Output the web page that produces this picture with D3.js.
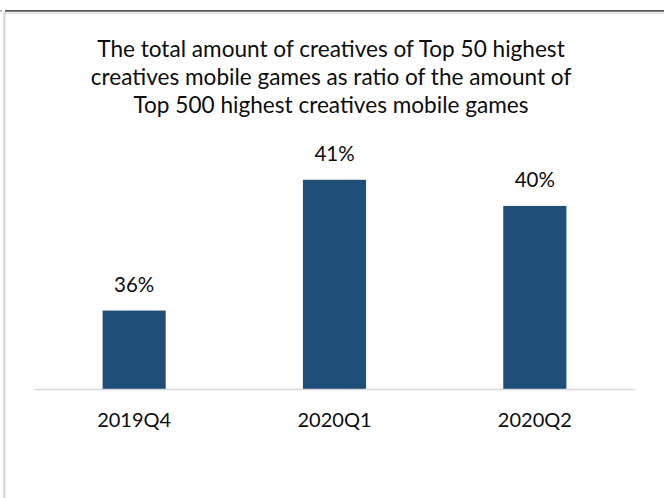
<!DOCTYPE html>
<html>
<head>
<meta charset="utf-8">
<script src="https://cdn.jsdelivr.net/npm/d3@7"></script>
<style>
  html, body { margin: 0; padding: 0; background: #fff; }
  svg { display: block; }
  text { font-family: Lato, "Open Sans", sans-serif; fill: #0d0d0d; }
</style>
</head>
<body>
<script>
// Share of creatives held by the Top 50 games, relative to the Top 500
const categories = ["2019Q4", "2020Q1", "2020Q2"];
const ratios = [36, 41, 40];
const titleLines = [
  "The total amount of creatives of Top 50 highest",
  "creatives mobile games as ratio of the amount of",
  "Top 500 highest creatives mobile games"
];

const W = 664, H = 498;
const svg = d3.select("body").append("svg").attr("width", W).attr("height", H);

// frame around the chart area
svg.append("line").attr("x1", 5).attr("x2", W).attr("y1", 10.8).attr("y2", 10.8)
  .attr("stroke", "#5a5a5a").attr("stroke-width", 1.8);
svg.append("line").attr("x1", 5).attr("x2", W).attr("y1", 13).attr("y2", 13)
  .attr("stroke", "#dedede").attr("stroke-width", 1.5);
svg.append("line").attr("x1", 4.3).attr("x2", 4.3).attr("y1", 12).attr("y2", H)
  .attr("stroke", "#d4d4d4").attr("stroke-width", 2);
svg.append("line").attr("x1", 0).attr("x2", 2).attr("y1", 11).attr("y2", 11)
  .attr("stroke", "#777").attr("stroke-width", 1.2);

// title
svg.append("g").selectAll("text").data(titleLines).join("text")
  .attr("x", 331)
  .attr("y", (d, i) => 57 + i * 28)
  .attr("text-anchor", "middle")
  .style("font-size", "22.6px")
  .text(d => d);

const x = d3.scaleBand().domain(categories).range([34, 635])
  .paddingInner(0.685).paddingOuter(0.3425);
const y = d3.scaleLinear().domain([33, 42]).range([389, 389 - 9 * 26.15]);

// bars
svg.append("g").selectAll("rect").data(categories).join("rect")
  .attr("x", d => x(d))
  .attr("width", x.bandwidth())
  .attr("y", (d, i) => y(ratios[i]))
  .attr("height", (d, i) => y(33) - y(ratios[i]))
  .attr("fill", "#1f4e79");

// value labels
svg.append("g").selectAll("text").data(categories).join("text")
  .attr("x", d => x(d) + x.bandwidth() / 2)
  .attr("y", (d, i) => y(ratios[i]) - 18.5)
  .attr("text-anchor", "middle")
  .style("font-size", "20.5px")
  .text((d, i) => ratios[i] + "%");

// category axis
const axis = svg.append("g").attr("transform", `translate(0,${y(33)})`)
  .call(d3.axisBottom(x).tickSize(0).tickPadding(0));
axis.select(".domain").attr("stroke", "#d9d9d9").attr("stroke-width", 1.5);
axis.selectAll(".tick text")
  .attr("dy", 0).attr("y", 38)
  .style("font-size", "20px")
  .style("font-family", "Lato, 'Open Sans', sans-serif")
  .attr("fill", "#0d0d0d");
</script>
</body>
</html>
